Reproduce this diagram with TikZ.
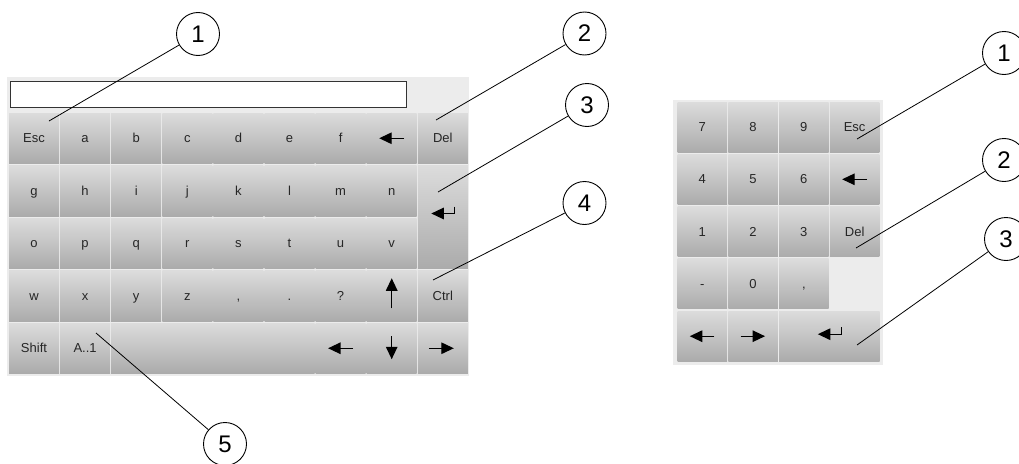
\documentclass[tikz,border=0pt]{standalone}
\usepackage{fontspec}
\setmainfont{Liberation Sans}
\usetikzlibrary{arrows.meta,calc}

\definecolor{panelgray}{HTML}{ECECEC}
\definecolor{keytop}{HTML}{DCDCDC}
\definecolor{keybot}{HTML}{ABABAB}
\definecolor{keytext}{HTML}{262626}

\begin{document}
\begin{tikzpicture}[
  x=1pt, y=-1pt,
  panel/.style={fill=panelgray, anchor=north west, inner sep=0, outer sep=0},
  key/.style={top color=keytop, bottom color=keybot, anchor=north west,
              minimum width=50pt, minimum height=50.5pt, inner sep=0, outer sep=0,
              text=keytext, text height=9pt, text depth=0pt,
              font=\fontsize{13}{15}\selectfont},
  glyph/.style={line width=1.3pt, -{Triangle[length=12.5pt,width=11.5pt]}},
  callout/.style={circle, draw, line width=0.9pt, minimum size=43pt, inner sep=0,
                  font=\fontsize{24}{24}\selectfont},
  lead/.style={line width=0.8pt},
]
\useasboundingbox (0,0) rectangle (1019,463);

% Text keyboard (left)
\node[panel, minimum width=462pt, minimum height=299pt] (kbd) at (7,77) {};
\node[draw=black!80, fill=white, line width=0.7pt, anchor=north west,
      minimum width=396pt, minimum height=26pt, inner sep=0] (field) at (10,81) {};

\foreach \lab [count=\c from 0] in {Esc,a,b,c,d,e,f,,Del}
  \node[key] (kA\c) at ({9+51.1*\c},113) {\lab};
\foreach \lab [count=\c from 0] in {g,h,i,j,k,l,m,n}
  \node[key] (kB\c) at ({9+51.1*\c},165.5) {\lab};
\foreach \lab [count=\c from 0] in {o,p,q,r,s,t,u,v}
  \node[key] (kC\c) at ({9+51.1*\c},218) {\lab};
\foreach \lab [count=\c from 0] in {w,x,y,z,{,},.,?,,Ctrl}
  \node[key] (kD\c) at ({9+51.1*\c},270.5) {\lab};
\foreach \lab [count=\c from 0] in {Shift,A..1}
  \node[key] (kE\c) at ({9+51.1*\c},323) {\lab};
\node[key, minimum width=203.3pt] (space) at (111.2,323) {};
\foreach \c in {6,7,8}
  \node[key] (kE\c) at ({9+51.1*\c},323) {};
\node[key, minimum height=103pt] (enter) at (417.8,165.5) {};

% key symbols
\draw[glyph] ($(kA7.center)+(12.5,0)$) -- ($(kA7.center)+(-12.5,0)$);
\draw[glyph] ($(enter.center)+(12,-10.5)$) -- ++(0,7) -- ++(-23.5,0);
\draw[glyph] ($(kD7.center)+(0,12.5)$) -- ($(kD7.center)+(0,-17.5)$);
\draw[glyph] ($(kE6.center)+(12.5,0)$) -- ($(kE6.center)+(-12.5,0)$);
\draw[glyph] ($(kE7.center)+(0,-12)$) -- ($(kE7.center)+(0,11)$);
\draw[glyph] ($(kE8.center)+(-14,0)$) -- ($(kE8.center)+(11,0)$);

% Numeric keypad (right)
\node[panel, minimum width=210pt, minimum height=265pt] (pad) at (673,99.5) {};

\foreach \lab [count=\c from 0] in {7,8,9,Esc}
  \node[key, minimum width=49.5pt, minimum height=50pt] (nA\c) at ({677.5+50.8*\c},102) {\lab};
\foreach \lab [count=\c from 0] in {4,5,6,}
  \node[key, minimum width=49.5pt, minimum height=50pt] (nB\c) at ({677.5+50.8*\c},154.3) {\lab};
\foreach \lab [count=\c from 0] in {1,2,3,Del}
  \node[key, minimum width=49.5pt, minimum height=50pt] (nC\c) at ({677.5+50.8*\c},206.6) {\lab};
\foreach \lab [count=\c from 0] in {-,0,{,}}
  \node[key, minimum width=49.5pt, minimum height=50pt] (nD\c) at ({677.5+50.8*\c},258.9) {\lab};
\foreach \c in {0,1}
  \node[key, minimum width=49.5pt, minimum height=50pt] (nE\c) at ({677.5+50.8*\c},311.2) {};
\node[key, minimum width=100.4pt, minimum height=50pt] (nenter) at (779.1,311.2) {};

\draw[glyph] ($(nB3.center)+(12.5,0)$) -- ($(nB3.center)+(-12.5,0)$);
\draw[glyph] ($(nE0.center)+(12,0)$) -- ($(nE0.center)+(-12.5,0)$);
\draw[glyph] ($(nE1.center)+(-12.5,0)$) -- ($(nE1.center)+(12,0)$);
\draw[glyph] ($(nenter.center)+(12.5,-9)$) -- ++(0,7) -- ++(-24,0);

% Callouts
\node[callout] (co1) at (198,34) {1};
\node[callout] (co2) at (584.5,33.5) {2};
\node[callout] (co3) at (587,105) {3};
\node[callout] (co4) at (584.5,203) {4};
\node[callout] (co5) at (225,444) {5};
\node[callout] (cn1) at (1004,53) {1};
\node[callout] (cn2) at (1004,160) {2};
\node[callout] (cn3) at (1006,239) {3};

\coordinate (co1e) at (49,121);
\coordinate (co2e) at (436,120);
\coordinate (co3e) at (438,192);
\coordinate (co4e) at (433,280);
\coordinate (co5e) at (96,333);
\coordinate (cn1e) at (857,139);
\coordinate (cn2e) at (856,248);
\coordinate (cn3e) at (857,345);

\draw[lead] (co1) -- (co1e);
\draw[lead] (co2) -- (co2e);
\draw[lead] (co3) -- (co3e);
\draw[lead] (co4) -- (co4e);
\draw[lead] (co5) -- (co5e);
\draw[lead] (cn1) -- (cn1e);
\draw[lead] (cn2) -- (cn2e);
\draw[lead] (cn3) -- (cn3e);
\end{tikzpicture}
\end{document}
